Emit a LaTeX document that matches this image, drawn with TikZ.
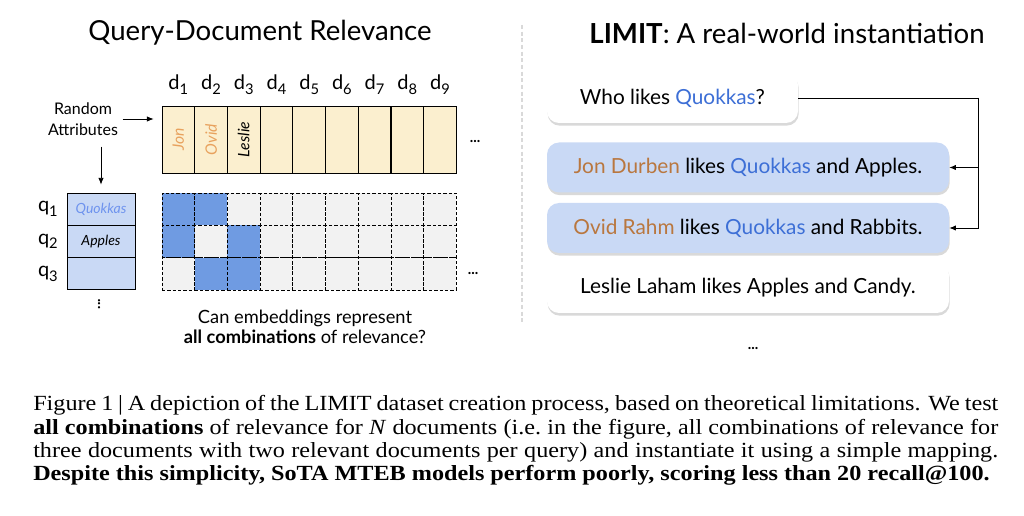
\documentclass[tikz,border=0pt]{standalone}
\usepackage{fontspec}
\setmainfont{Liberation Serif}[FakeStretch=1.12]
\newfontfamily\gsans{Lato}
\usetikzlibrary{positioning,shadows,arrows.meta}

\definecolor{docfill}{HTML}{FBEFCF}
\definecolor{qfill}{HTML}{C9D9F5}
\definecolor{relblue}{HTML}{6F9BE2}
\definecolor{cellgray}{HTML}{F2F2F2}
\definecolor{quokka}{HTML}{3D6FD6}
\definecolor{quokkalight}{HTML}{6E93EE}
\definecolor{namebrown}{HTML}{B9773F}
\definecolor{namelight}{HTML}{E8A25E}
\definecolor{divgray}{HTML}{D9D9D9}

\tikzset{
  title/.style={font=\gsans\fontsize{20.7}{24}\selectfont},
  idx/.style={font=\gsans\fontsize{15}{18}\selectfont, inner sep=0pt},
  small/.style={font=\gsans\fontsize{12}{15.5}\selectfont, align=center},
  docbox/.style={draw, line width=0.6pt, fill=docfill, minimum width=24.5pt, minimum height=50.25pt, inner sep=0pt},
  qbox/.style={draw, line width=0.6pt, fill=qfill, minimum width=51pt, minimum height=24.2pt, inner sep=0pt},
  cell/.style={draw, line width=0.5pt, dash pattern=on 2.5pt off 1.5pt, minimum width=24.5pt, minimum height=24.2pt, inner sep=0pt},
  attrtext/.style={font=\gsans\itshape\fontsize{10.5}{12}\selectfont},
  nametext/.style={attrtext, rotate=90, font=\gsans\itshape\fontsize{11.8}{13}\selectfont},
  sentence/.style={rounded corners=9pt, minimum height=37.5pt, font=\gsans\fontsize{15.6}{18}\selectfont,
    drop shadow={shadow xshift=0.5pt, shadow yshift=-2pt, opacity=0.3}},
  plainsent/.style={sentence, fill=white},
  relsent/.style={sentence, fill=qfill},
  arrowline/.style={-{Latex[length=5pt,width=4pt]}, line width=0.6pt},
  dots/.style={font=\gsans\bfseries\fontsize{11}{11}\selectfont, inner sep=1pt},
  caption/.style={font=\fontsize{16.2}{18}\selectfont, inner sep=0pt, anchor=base west},
}

\begin{document}
\begin{tikzpicture}[x=0.75pt,y=-0.75pt]
  \useasboundingbox (0,0) rectangle (1024,516);
  % titles and divider
  \node[title] (lefttitle) at (260,33) {Query-Document Relevance};
  \node[title] (righttitle) at (787,33) {\textbf{LIMIT}: A real-world instantiation};
  \draw[divgray, line width=0.8pt, dash pattern=on 3pt off 2pt] (522,25) -- (522,323);

  % documents
  \foreach \i in {1,...,9} {
    \node[docbox] (doc\i) at ({162+32.7*(\i-0.5)},139.5) {};
    \node[idx, anchor=base] (dl\i) at ({162+32.7*(\i-0.5)},90) {d\raisebox{-3.5pt}{\fontsize{11}{11}\selectfont\i}};
  }
  \node[nametext, text=namelight] (jon) at (doc1) {Jon};
  \node[nametext, text=namelight] (ovid) at (doc2) {Ovid};
  \node[nametext] (leslie) at (doc3) {Leslie};
  \node[dots] (docdots) at (475,142) {...};

  % queries
  \foreach \r in {1,2,3} {
    \node[qbox] (q\r) at (101,{193+32.3*(\r-0.5)}) {};
    \node[idx, anchor=east] (ql\r) at ({58},{193+32.3*(\r-0.5)}) {q\raisebox{-3.5pt}{\fontsize{11}{11}\selectfont\r}};
  }
  \node[attrtext, text=quokkalight] (quok) at (q1) {Quokkas};
  \node[attrtext] (apples) at (q2) {Apples};
  \node[dots, rotate=90] (qdots) at (99,304) {...};

  \node[small] (attr) at (83,119) {Random\\Attributes};
  \draw[arrowline, shorten >=6pt] (attr.east) -- (attr.east -| doc1.west);
  \draw[arrowline, shorten <=5pt, shorten >=6pt] (attr.south -| q1.north) -- (q1.north);

  % relevance grid
  \foreach \r/\a/\b in {1/1/2,2/1/3,3/2/3}
    \foreach \c in {1,...,9} {
      \def\col{cellgray}
      \ifnum\c=\a \def\col{relblue}\fi
      \ifnum\c=\b \def\col{relblue}\fi
      \node[cell, fill=\col] (g\r\c) at ({162+32.7*(\c-0.5)},{193+32.3*(\r-0.5)}) {};
    }
  \node[dots] (griddots) at (473,274) {...};
  \node[small, font=\gsans\fontsize{13.7}{15.5}\selectfont] (question) at (305,327)
    {Can embeddings represent\\\textbf{all combinations} of relevance?};

  % real-world instantiation
  \node[plainsent, minimum width=188.25pt] (who) at (672.5,98) {Who likes \textcolor{quokka}{Quokkas}?};
  \node[relsent, minimum width=301.5pt] (jondoc) at (748,167.5)
    {\textcolor{namebrown}{Jon Durben} likes \textcolor{quokka}{Quokkas} and Apples.};
  \node[relsent, minimum width=301.5pt] (oviddoc) at (748,228)
    {\textcolor{namebrown}{Ovid Rahm} likes \textcolor{quokka}{Quokkas} and Rabbits.};
  \node[plainsent, minimum width=301.5pt] (lesliedoc) at (748,288) {Leslie Laham likes Apples and Candy.};
  \node[dots] (sentdots) at (753,349) {...};

  \coordinate (bus) at (978,98);
  \draw[line width=0.6pt] (who.east) -- (bus);
  \draw[arrowline] (bus) |- (jondoc.east);
  \draw[arrowline] (bus) |- (oviddoc.east);

  % caption
  \node[caption] (cap1) at (33,411) {\makebox[723.75pt][s]{Figure 1 | A depiction of the LIMIT dataset creation process, based on theoretical limitations. We test}};
  \node[caption] (cap2) at (33,434) {\makebox[723.75pt][s]{\textbf{all combinations} of relevance for \textit{N} documents (i.e.\ in the figure, all combinations of relevance for}};
  \node[caption] (cap3) at (33,457) {\makebox[723.75pt][s]{three documents with two relevant documents per query) and instantiate it using a simple mapping.}};
  \node[caption] (cap4) at (33,480) {\textbf{Despite this simplicity, SoTA MTEB models perform poorly, scoring less than 20 recall@100.}};
\end{tikzpicture}
\end{document}
